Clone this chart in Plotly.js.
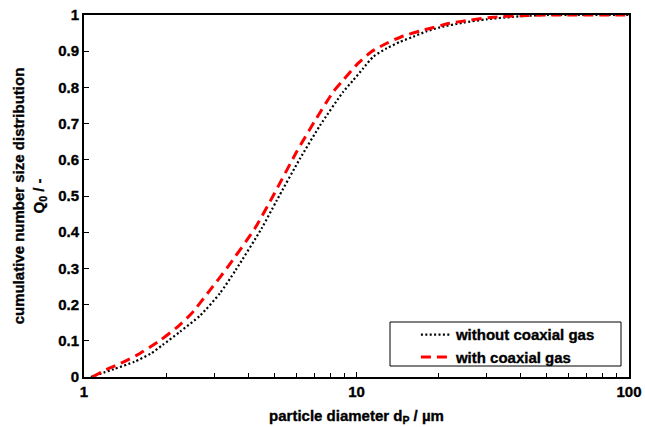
<!DOCTYPE html>
<html><head><meta charset="utf-8">
<script src="https://cdn.plot.ly/plotly-3.0.1.min.js"></script>
<style>html,body{margin:0;padding:0;background:#fff}#chart{width:645px;height:427px}</style>
</head><body><div id="chart"></div>
<script>
const withoutX = [1.06, 1.29, 1.53, 1.76, 1.94, 2.25, 2.67, 3.16, 3.6, 4.49, 5.1, 6.2, 7.35, 8.94, 9.73, 10.59, 11.53, 12.91, 14.45, 16.16, 18.1, 20.25, 24.7, 30.0, 37.6, 48, 100];
const withoutY = [0, 0.022, 0.042, 0.065, 0.088, 0.125, 0.170, 0.232, 0.295, 0.411, 0.488, 0.603, 0.695, 0.788, 0.820, 0.853, 0.885, 0.908, 0.926, 0.940, 0.955, 0.966, 0.979, 0.988, 0.995, 1.0, 1.0];
const withX = [1.07, 1.235, 1.40, 1.57, 1.76, 1.91, 2.2, 2.485, 2.90, 3.34, 4.24, 4.9, 6.03, 7.0, 8.22, 8.94, 10.15, 11.37, 12.91, 14.85, 17.35, 22.0, 26.1, 31.8, 39.8, 50, 100];
const withY = [0, 0.024, 0.042, 0.061, 0.084, 0.102, 0.138, 0.176, 0.240, 0.300, 0.411, 0.495, 0.622, 0.705, 0.788, 0.820, 0.867, 0.899, 0.922, 0.942, 0.957, 0.977, 0.986, 0.994, 0.998, 1.0, 1.0];
const seriesNames = ['without coaxial gas', 'with coaxial gas'];
const xTickVals = [1, 10, 100];
const xTickText = ['1', '10', '100'];
const yTickVals = [0, 0.1, 0.2, 0.3, 0.4, 0.5, 0.6, 0.7, 0.8, 0.9, 1];
const yTickText = ['0', '0.1', '0.2', '0.3', '0.4', '0.5', '0.6', '0.7', '0.8', '0.9', '1'];

const F = 'Liberation Sans, Arial, sans-serif';
const traces = [
  {x: withoutX, y: withoutY, name: seriesNames[0], mode: 'lines',
   line: {color: '#000', width: 2.2, dash: '2px,2.4px', shape: 'spline', smoothing: 0.6}},
  {x: withX, y: withY, name: seriesNames[1], mode: 'lines',
   line: {color: '#ff0000', width: 3, dash: '10px,6px', shape: 'spline', smoothing: 0.6}}
];
const layout = {
  width: 645, height: 427,
  margin: {l: 84, r: 16, t: 15, b: 50},
  paper_bgcolor: '#fff', plot_bgcolor: '#fff',
  showlegend: true,
  font: {family: F, color: '#000'},
  xaxis: {
    type: 'log', range: [0, 2], showgrid: false, zeroline: false,
    showline: true, linecolor: '#000', linewidth: 2, mirror: true,
    tickvals: xTickVals, ticktext: xTickText.map(t => '<b>' + t + '</b>'),
    ticks: 'inside', ticklen: 5, tickwidth: 1, tickcolor: '#000',
    minor: {ticks: 'inside', ticklen: 4, tickwidth: 1, tickcolor: '#000', dtick: 'D1', showgrid: false},
    tickfont: {family: F, size: 15, color: '#000'},
    title: {text: '<b>particle diameter d<sub>P</sub> / µm</b>', font: {family: F, size: 15, color: '#000'}, standoff: 11}
  },
  yaxis: {
    range: [0, 1], showgrid: false, zeroline: false,
    showline: true, linecolor: '#000', linewidth: 2, mirror: true,
    tickvals: yTickVals, ticktext: yTickText.map(t => '<b>' + t + '</b>'),
    ticks: 'inside', ticklen: 5, tickwidth: 1, tickcolor: '#000',
    tickfont: {family: F, size: 15, color: '#000'},
    title: {text: '<b>cumulative number size distribution<br>Q<sub>0</sub> / -</b>', font: {family: F, size: 15, color: '#000'}, standoff: 10}
  },
  legend: {
    x: 0.609, xanchor: 'left', y: 0.162, yanchor: 'top',
    bgcolor: 'rgba(0,0,0,0)', borderwidth: 0,
    font: {family: F, size: 15, color: '#000', weight: 'bold'},
    tracegroupgap: 0
  },
  shapes: [{type: 'rect', xref: 'paper', yref: 'paper',
    x0: (390 - 84) / 545, x1: (621 - 84) / 545, y0: (377 - 366) / 362, y1: (377 - 322) / 362,
    line: {color: '#000', width: 1}, fillcolor: '#fff', layer: 'below'}]
};
Plotly.newPlot('chart', traces, layout, {displayModeBar: false, staticPlot: true}).then(() => {
  document.querySelectorAll('.legendtext').forEach(t => t.style.fontWeight = 'bold');
  document.querySelectorAll('#chart text').forEach(t => { t.style.stroke = '#000'; t.style.strokeWidth = '0.35px'; });
});
</script></body></html>
